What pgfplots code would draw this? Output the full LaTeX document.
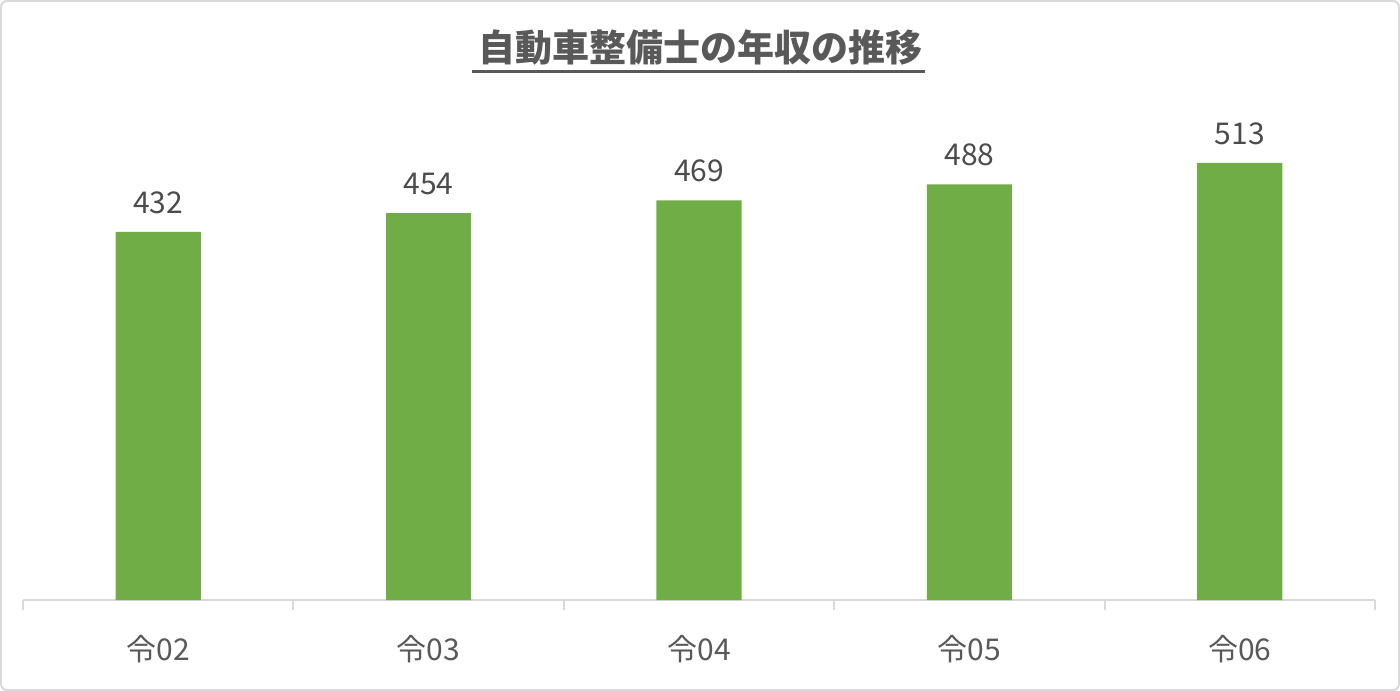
\documentclass[border=0pt]{standalone}
\usepackage{fontspec}
\setmainfont{Noto Sans CJK JP}
\usepackage{pgfplots}
\pgfplotsset{compat=1.18}
\definecolor{bargreen}{HTML}{70AD47}
\definecolor{txtgray}{HTML}{595959}
\definecolor{linegray}{HTML}{D9D9D9}
\begin{document}
\begin{tikzpicture}
\useasboundingbox (-11.5bp,-45.5bp) rectangle (688.5bp,300bp);
\draw[linegray, line width=1bp, rounded corners=3bp] (-11bp,-45bp) rectangle (688bp,299.5bp);
\begin{axis}[
  at={(0,0)}, anchor=south west,
  scale only axis,
  width=676bp, height=260bp,
  ybar, bar width=0.315,
  xmin=-0.5, xmax=4.5,
  ymin=0, ymax=610.4,
  axis x line*=bottom,
  axis y line=none,
  x axis line style={linegray, line width=1bp},
  xtick={0,1,2,3,4},
  xticklabels={令02,令03,令04,令05,令06},
  major x tick style={draw=none},
  minor xtick={-0.5,0.5,1.5,2.5,3.5,4.5},
  minor x tick style={linegray, line width=1bp},
  minor tick length=5bp,
  tick align=outside,
  /pgf/number format/assume math mode=true,
  x tick label style={font=\fontsize{15bp}{18bp}\selectfont, text=txtgray, yshift=-10bp},
  nodes near coords,
  nodes near coords style={font=\fontsize{15bp}{18bp}\selectfont, text=txtgray!85!black, anchor=south, inner sep=0pt, yshift=9bp},
  clip=false,
]
\addplot[fill=bargreen, draw=none] coordinates {(0,432) (1,454) (2,469) (3,488) (4,513)};
\end{axis}
\node[anchor=base, text=txtgray, font=\fontsize{18.5bp}{22bp}\selectfont\bfseries, inner sep=0pt] (ttl) at (338.5bp,269bp) {自動車整備士の年収の推移};
\fill[txtgray] ([xshift=-3bp,yshift=-5.5bp]ttl.base west) rectangle ([xshift=1.5bp,yshift=-4bp]ttl.base east);
\end{tikzpicture}
\end{document}
